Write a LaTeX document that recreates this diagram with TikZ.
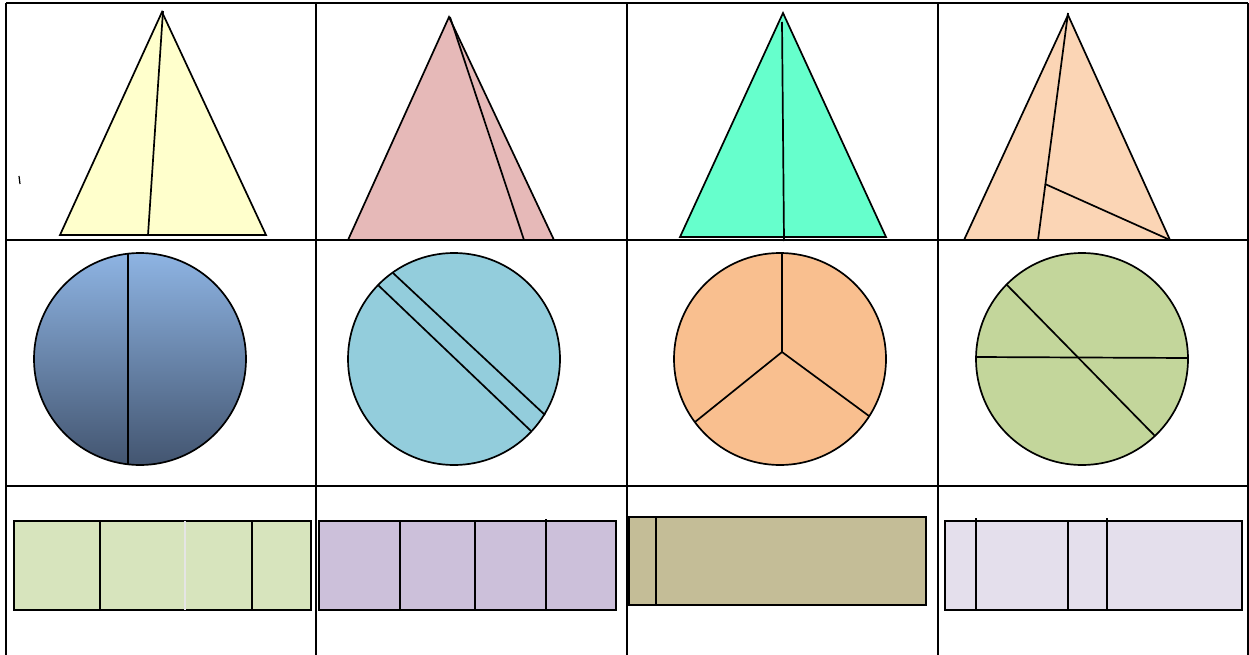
\documentclass[tikz,border=0pt]{standalone}
\usepackage{xcolor}
\usepackage{tikz}

\definecolor{triYellow}{HTML}{FFFFCC}
\definecolor{triRose}{HTML}{E6B9B8}
\definecolor{triMint}{HTML}{66FFCC}
\definecolor{triPeach}{HTML}{FBD5B5}
\definecolor{discTop}{HTML}{8EB4E3}
\definecolor{discBottom}{HTML}{435570}
\definecolor{discCyan}{HTML}{93CDDC}
\definecolor{discOrange}{HTML}{F9BF8F}
\definecolor{discOlive}{HTML}{C3D69B}
\definecolor{barGreen}{HTML}{D7E4BD}
\definecolor{barLilac}{HTML}{CCC0DA}
\definecolor{barKhaki}{HTML}{C4BD97}
\definecolor{barMist}{HTML}{E4DFEC}

\begin{document}
\begin{tikzpicture}[
    x=1pt, y=-1pt,
    cell/.style={line width=1.8pt, black},
    piece/.style={draw=black, line width=1.7pt, line join=miter},
    cut/.style={black, line width=1.7pt},
    paleCut/.style={gray!20, line width=1.7pt},
]
    \useasboundingbox (0,0) rectangle (1249,655);

    % grid of cells
    \draw[cell] (6,3) -- (1248,3);
    \draw[cell] (6,240) -- (1248,240);
    \draw[cell] (6,486) -- (1248,486);
    \foreach \gx in {6,316,627,938,1248}
        \draw[cell] (\gx,3) -- (\gx,655);

    % row 1: triangles
    \filldraw[piece, fill=triYellow] (162,12) -- (266,235) -- (60,235) -- cycle;
    \draw[cut] (163,11) -- (148,235);
    \draw[cut, line width=1.2pt] (19,176) -- (20,184);

    \filldraw[piece, fill=triRose] (449,17) -- (554,240) -- (348,240) -- cycle;
    \draw[cut] (450,17) -- (524,240);

    \filldraw[piece, fill=triMint] (783,13) -- (886,237) -- (680,237) -- cycle;
    \draw[cut] (782,22) -- (784,241);

    \filldraw[piece, fill=triPeach] (1068,15) -- (1170,240) -- (964,240) -- cycle;
    \draw[cut] (1068,13) -- (1038,240);
    \draw[cut] (1045,184) -- (1170,240);

    % row 2: discs
    \shade[top color=discTop, bottom color=discBottom] (140,359) circle (106pt);
    \draw[piece] (140,359) circle (106pt);
    \draw[cut] (128,253) -- (128,465);

    \filldraw[piece, fill=discCyan] (454,359) circle (106pt);
    \draw[cut] (378,285) -- (531,431);
    \draw[cut] (393,273) -- (545,415);

    \filldraw[piece, fill=discOrange] (780,359) circle (106pt);
    \draw[cut] (782,253) -- (782,352) -- (695,422);
    \draw[cut] (782,352) -- (869,416);

    \filldraw[piece, fill=discOlive] (1082,359) circle (106pt);
    \draw[cut] (976,357) -- (1188,358);
    \draw[cut] (1007,285) -- (1155,436);

    % row 3: bars
    \filldraw[piece, fill=barGreen] (14,521) rectangle (311,610);
    \draw[cut] (100,521) -- (100,610);
    \draw[paleCut] (185,521) -- (185,610);
    \draw[cut] (252,521) -- (252,610);

    \filldraw[piece, fill=barLilac] (319,521) rectangle (616,610);
    \foreach \bx in {400,475}
        \draw[cut] (\bx,521) -- (\bx,610);
    \draw[cut] (546,519) -- (546,610);

    \filldraw[piece, fill=barKhaki] (628,517) rectangle (926,605);
    \draw[cut, line width=2.8pt] (629,517) -- (629,605);
    \draw[cut] (656,517) -- (656,605);

    \filldraw[piece, fill=barMist] (945,521) rectangle (1242,610);
    \draw[cut] (976,518) -- (976,610);
    \draw[cut] (1068,521) -- (1068,610);
    \draw[cut] (1107,518) -- (1107,610);
\end{tikzpicture}
\end{document}
